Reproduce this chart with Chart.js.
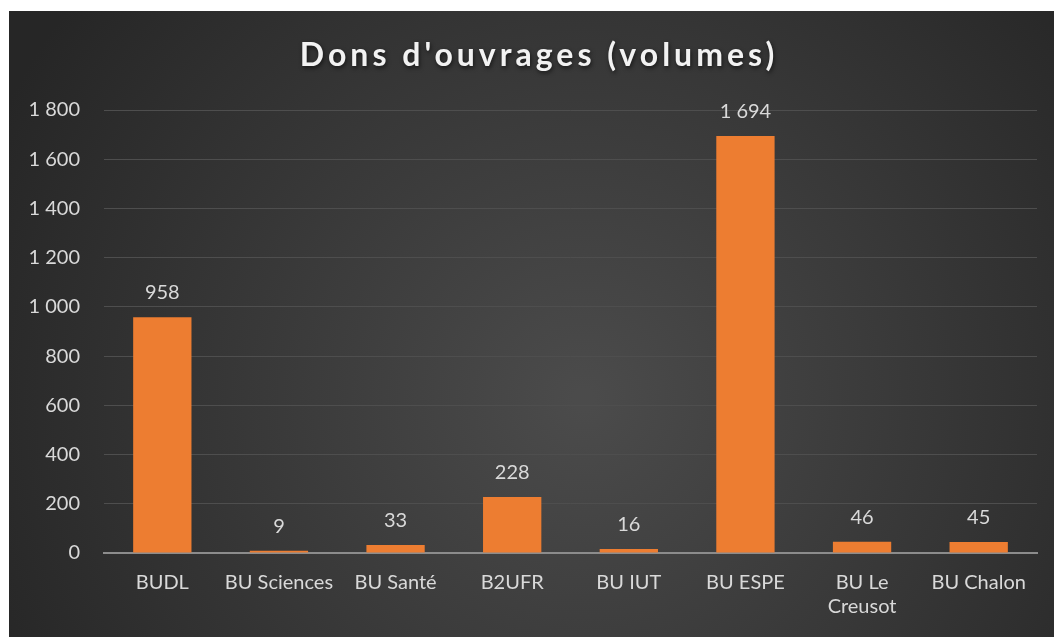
<!DOCTYPE html>
<html>
<head>
<meta charset="utf-8">
<script src="https://cdn.jsdelivr.net/npm/chart.js@4"></script>
<style>
  html, body { margin: 0; padding: 0; background: #ffffff; }
  #wrap { position: absolute; left: 9px; top: 11px; width: 1045px; height: 626px; }
</style>
</head>
<body>
<div id="wrap"><canvas id="myChart"></canvas></div>
<script>
const chartTitle = "Dons d'ouvrages (volumes)";
const categories = ['BUDL', 'BU Sciences', 'BU Santé', 'B2UFR', 'BU IUT', 'BU ESPE', ['BU Le', 'Creusot'], 'BU Chalon'];
const volumes = [958, 9, 33, 228, 16, 1694, 46, 45];
const yTicks = [0, 200, 400, 600, 800, 1000, 1200, 1400, 1600, 1800];

const FONT = 'Lato, "Open Sans", sans-serif';

function frNumber(v) {
    return String(v).replace(/\B(?=(\d{3})+(?!\d))/g, ' ');
}

// fond sombre avec dégradé radial + titre espacé
const bgPlugin = {
    id: 'bg',
    beforeDraw(chart) {
        const c = chart.ctx;
        const w = chart.width, h = chart.height;
        const g = c.createRadialGradient(w * 0.55, h * 0.62, 10, w * 0.55, h * 0.62, w * 0.62);
        g.addColorStop(0, '#4b4b4b');
        g.addColorStop(1, '#262626');
        c.save();
        c.fillStyle = g;
        c.fillRect(0, 0, w, h);
        c.restore();
    },
    afterDraw(chart) {
        const c = chart.ctx;
        c.save();
        c.font = 'bold 32px ' + FONT;
        c.letterSpacing = '4px';
        c.textAlign = 'center';
        c.textBaseline = 'alphabetic';
        c.fillStyle = '#f2f2f2';
        c.shadowColor = 'rgba(0,0,0,0.6)';
        c.shadowBlur = 4;
        c.shadowOffsetX = 1;
        c.shadowOffsetY = 2;
        c.fillText(chartTitle, 530, 55);
        c.restore();
    }
};

// étiquettes de valeurs au-dessus des barres
const valueLabels = {
    id: 'valueLabels',
    afterDatasetsDraw(chart) {
        const c = chart.ctx;
        const meta = chart.getDatasetMeta(0);
        c.save();
        c.fillStyle = '#d9d9d9';
        c.font = '20px ' + FONT;
        c.textAlign = 'center';
        c.textBaseline = 'alphabetic';
        meta.data.forEach((bar, i) => {
            c.fillText(frNumber(volumes[i]), bar.x, bar.y - 18);
        });
        c.restore();
    }
};

const ctx = document.getElementById('myChart');

new Chart(ctx, {
    type: 'bar',
    data: {
        labels: categories,
        datasets: [{
            label: 'Volumes',
            data: volumes,
            backgroundColor: '#ed7d31',
            borderWidth: 0,
            categoryPercentage: 1,
            barPercentage: 0.5
        }]
    },
    options: {
        responsive: true,
        maintainAspectRatio: false,
        animation: false,
        layout: { padding: { top: 99, right: 17, bottom: 0, left: 0 } },
        plugins: {
            legend: { display: false },
            tooltip: { enabled: false },
            title: { display: false }
        },
        scales: {
            x: {
                grid: { display: false, drawTicks: false },
                border: { color: '#8c8c8c', width: 2 },
                ticks: {
                    color: '#d9d9d9',
                    font: { size: 20, family: FONT },
                    padding: 18,
                    maxRotation: 0,
                    autoSkip: false
                }
            },
            y: {
                min: 0,
                max: 1800,
                afterBuildTicks(axis) {
                    axis.ticks = yTicks.map(v => ({ value: v }));
                },
                afterFit(axis) { axis.width = 95; },
                grid: { color: '#4e4e4e', lineWidth: 1, drawTicks: false },
                border: { display: false },
                ticks: {
                    color: '#d9d9d9',
                    font: { size: 20, family: FONT },
                    padding: 24,
                    callback: v => frNumber(v)
                }
            }
        }
    },
    plugins: [bgPlugin, valueLabels]
});
</script>
</body>
</html>
